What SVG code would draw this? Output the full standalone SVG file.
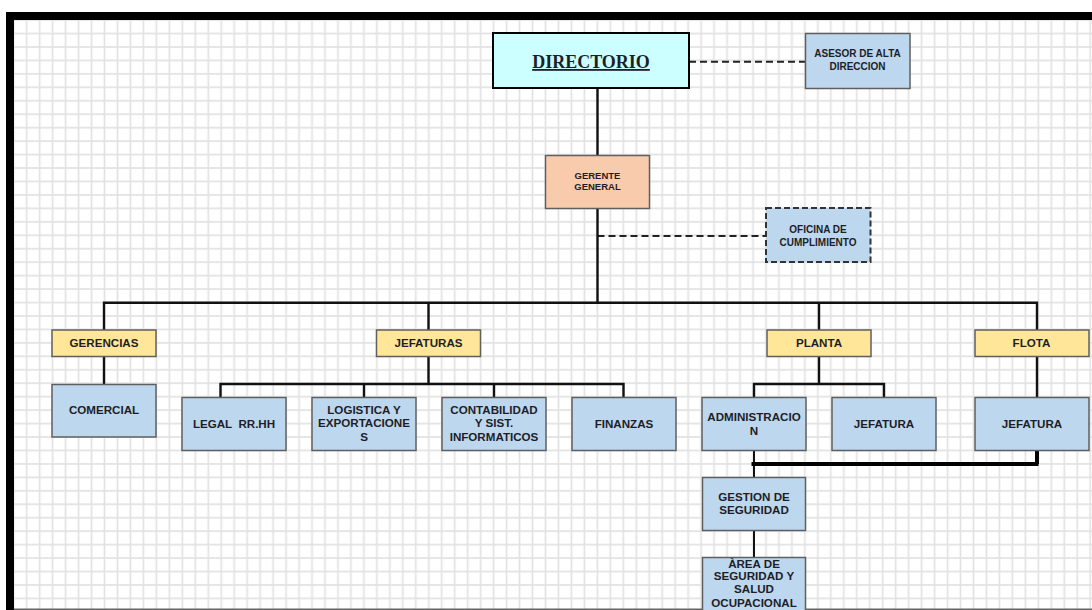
<svg xmlns="http://www.w3.org/2000/svg" width="1092" height="610" viewBox="0 0 1092 610">
<defs>
<pattern id="grid" patternUnits="userSpaceOnUse" x="20.2" y="26.8" width="12.97" height="13.45">
<line x1="6.485" y1="0" x2="6.485" y2="13.45" stroke="#e2e2e2" stroke-width="1.7"/>
<line x1="0" y1="6.725" x2="12.97" y2="6.725" stroke="#e2e2e2" stroke-width="1.7"/>
</pattern>
</defs>
<style>
.blue{fill:#bdd7ee;stroke:#5f5f5f;stroke-width:1.5}
.yel{fill:#ffe699;stroke:#5f5f5f;stroke-width:1.5}
.t{font-family:"Liberation Sans",Arial,sans-serif;font-weight:bold;font-size:11.6px;fill:#1e1e28;text-anchor:middle}
.s{font-size:10px}
.g{font-size:9.5px}
.c{stroke:#111;stroke-width:2.4;fill:none}
.thin{stroke:#111;stroke-width:2;fill:none}
.thick{stroke:#000;stroke-width:4;fill:none}
.d{stroke:#222;stroke-width:2;fill:none;stroke-dasharray:7 4}
</style>
<rect x="0" y="0" width="1092" height="610" fill="#ffffff"/>
<rect x="14" y="20" width="1078" height="589" fill="url(#grid)"/>
<rect x="6" y="12" width="1086" height="8" fill="#000"/>
<rect x="6" y="12" width="8" height="598" fill="#000"/>
<rect x="14" y="608.5" width="1078" height="1.5" fill="#666"/>

<g id="connectors">
<path class="d" d="M689 61.7 H805"/>
<path class="d" d="M597.5 236 H766"/>
<path class="c" d="M597.5 88 V155.5"/>
<path class="c" d="M597.5 208.5 V302.7"/>
<path class="c" d="M104 330 V302.7 H1037 V330"/>
<path class="c" d="M428.5 302.7 V330"/>
<path class="c" d="M819 302.7 V330"/>
<path class="c" d="M104 356.5 V384.5"/>
<path class="c" d="M428.5 356.5 V384"/>
<path class="c" d="M220.5 397.5 V384 H623.5 V397.5"/>
<path class="c" d="M364 384 V397.5"/>
<path class="c" d="M494 384 V397.5"/>
<path class="c" d="M819 356.5 V384"/>
<path class="c" d="M754 397.5 V384 H884 V397.5"/>
<path class="c" d="M1037 356.5 V397.5"/>
<path class="thin" d="M754 450.5 V477.5"/>
<path class="thin" d="M754 530.5 V557.5"/>
<path class="thick" d="M751.5 464 H1038.5"/>
<path class="thick" d="M1037 450.5 V464"/>
</g>

<g id="directorio">
<rect x="493" y="33" width="196" height="55" fill="#ccffff" stroke="#000" stroke-width="2"/>
<text x="591" y="68" font-family="'Liberation Serif','Times New Roman',serif" font-weight="bold" font-size="18" fill="#1e1e28" text-anchor="middle" text-decoration="underline">DIRECTORIO</text>
</g>
<g id="asesor">
<rect class="blue" x="805.5" y="33.5" width="104.5" height="55"/>
<text class="t s" x="857.5" y="57">ASESOR DE ALTA</text>
<text class="t s" x="857.5" y="69.5">DIRECCION</text>
</g>
<g id="gerente">
<rect x="545.5" y="155.5" width="104" height="53" fill="#f8cbad" stroke="#5f5f5f" stroke-width="1.5"/>
<text class="t g" x="597.5" y="178.5">GERENTE</text>
<text class="t g" x="597.5" y="190.3">GENERAL</text>
</g>
<g id="oficina">
<rect x="766" y="208" width="104.5" height="54" fill="#bdd7ee" stroke="#333" stroke-width="2" stroke-dasharray="6 3"/>
<text class="t s" x="818" y="233">OFICINA DE</text>
<text class="t s" x="818" y="245.5">CUMPLIMIENTO</text>
</g>
<g id="gerencias">
<rect class="yel" x="52" y="330" width="104" height="26.5"/>
<text class="t" x="104" y="346.5">GERENCIAS</text>
</g>
<g id="jefaturas">
<rect class="yel" x="376.5" y="330" width="104" height="26.5"/>
<text class="t" x="428.5" y="346.5">JEFATURAS</text>
</g>
<g id="planta">
<rect class="yel" x="767" y="330" width="104" height="26.5"/>
<text class="t" x="819" y="346.5">PLANTA</text>
</g>
<g id="flota">
<rect class="yel" x="975" y="330" width="114" height="26.5"/>
<text class="t" x="1031.5" y="346.5">FLOTA</text>
</g>
<g id="comercial">
<rect class="blue" x="52" y="384.5" width="104" height="52.5"/>
<text class="t" x="104" y="414">COMERCIAL</text>
</g>
<g id="legal">
<rect class="blue" x="182" y="397.5" width="104" height="53"/>
<text class="t" x="234" y="428.3" xml:space="preserve">LEGAL  RR.HH</text>
</g>
<g id="logistica">
<rect class="blue" x="312" y="397.5" width="104" height="53"/>
<text class="t" x="364" y="414">LOGISTICA Y</text>
<text class="t" x="364" y="427.3">EXPORTACIONE</text>
<text class="t" x="364" y="440.7">S</text>
</g>
<g id="contabilidad">
<rect class="blue" x="442" y="397.5" width="104" height="53"/>
<text class="t" x="494" y="414">CONTABILIDAD</text>
<text class="t" x="494" y="427.3">Y SIST.</text>
<text class="t" x="494" y="440.7">INFORMATICOS</text>
</g>
<g id="finanzas">
<rect class="blue" x="572" y="397.5" width="104" height="53"/>
<text class="t" x="624" y="428">FINANZAS</text>
</g>
<g id="administracion">
<rect class="blue" x="702" y="397.5" width="104" height="53"/>
<text class="t" x="754" y="420.7">ADMINISTRACIO</text>
<text class="t" x="754" y="434.7">N</text>
</g>
<g id="jefatura-planta">
<rect class="blue" x="832" y="397.5" width="104" height="53"/>
<text class="t" x="884" y="427.5">JEFATURA</text>
</g>
<g id="jefatura-flota">
<rect class="blue" x="975" y="397.5" width="114" height="53"/>
<text class="t" x="1032" y="427.5">JEFATURA</text>
</g>
<g id="gestion">
<rect class="blue" x="702.5" y="477.5" width="103" height="53"/>
<text class="t" x="754" y="500.7">GESTION DE</text>
<text class="t" x="754" y="514">SEGURIDAD</text>
</g>
<g id="area">
<rect class="blue" x="702.5" y="557.5" width="103" height="60"/>
<text class="t" x="754" y="568">ÀREA DE</text>
<text class="t" x="754" y="580">SEGURIDAD Y</text>
<text class="t" x="754" y="593.3">SALUD</text>
<text class="t" x="754" y="607">OCUPACIONAL</text>
</g>
</svg>
